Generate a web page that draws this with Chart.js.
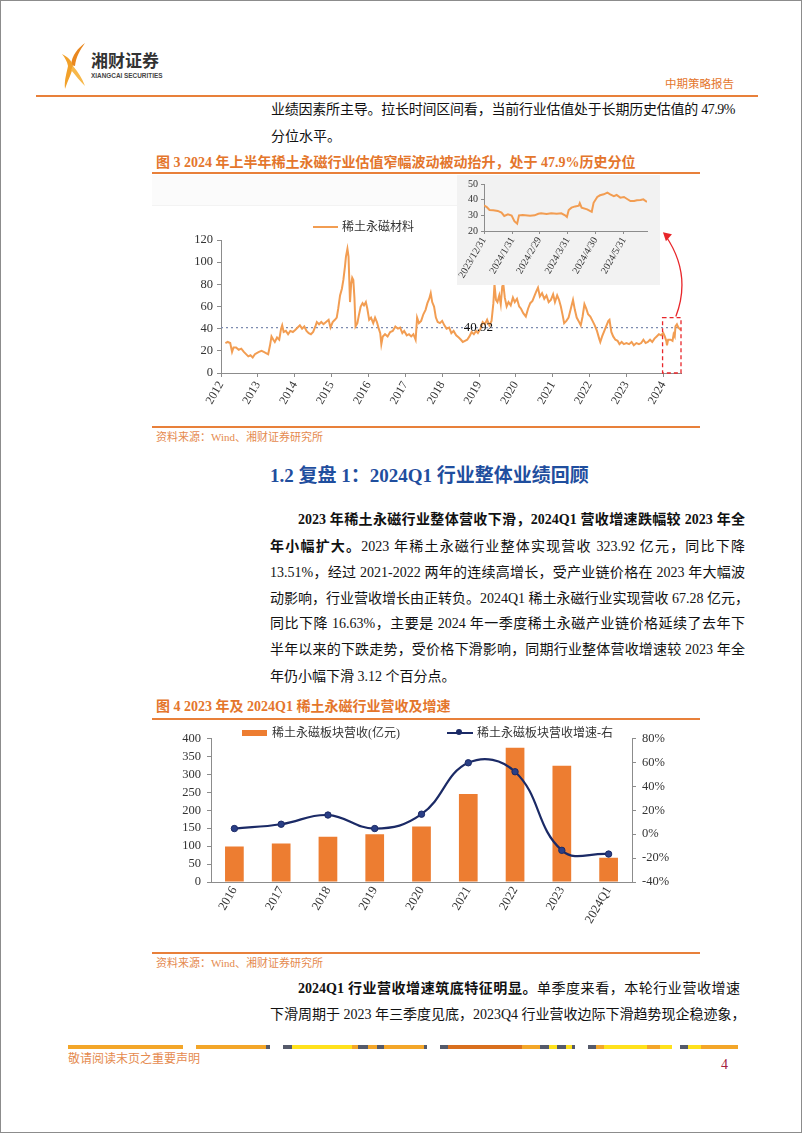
<!DOCTYPE html>
<html>
<head>
<meta charset="utf-8">
<script src="https://cdn.jsdelivr.net/npm/chart.js@4.4.1/dist/chart.umd.min.js"></script>
<style>
html, body { margin: 0; padding: 0; background: #fff; }
body { width: 802px; height: 1133px; position: relative; overflow: hidden;
  font-family: "Liberation Serif", "Noto Sans CJK SC", serif; color: #111; }
.frame { position: absolute; left: 0; top: 0; width: 800px; height: 1131px; border: 1px solid #8c8c8c; }
.abs { position: absolute; white-space: nowrap; }
.txt { position: absolute; white-space: nowrap; font-size: 14px; line-height: 20px; }
.just { text-align: justify; text-align-last: justify; }
.b { font-weight: bold; }
.figtitle { position: absolute; white-space: nowrap; font-size: 14px; line-height: 20px; font-weight: bold; color: #e4762c; }
.rule { position: absolute; height: 2px; background: #e8803a; }
.src { position: absolute; white-space: nowrap; font-size: 11px; line-height: 14px; color: #e58a4e; }
canvas { position: absolute; }
.seg { position: absolute; top: 1045px; height: 4px; }
</style>
</head>
<body>
<div class="frame"></div>

<!-- header -->
<svg class="abs" style="left:58px;top:40px" width="32" height="52" viewBox="58 40 32 52">
  <path d="M85,43 C78,48 72,55 71,65 L75,66 C76,57 80,50 85,43 Z" fill="#e9871f"/>
  <path d="M62,54 C68,57 72,61 73,66 C72,73 68,80 65,89 C64,80 67,72 68,66 C67,61 65,58 62,54 Z" fill="#f2a12a"/>
  <path d="M73,66 C78,72 82,78 85,86 C80,81 76,76 71,70 Z" fill="#f7b84a"/>
</svg>
<div class="abs" style="left:91px;top:49px;font-family:'Noto Sans CJK SC';font-weight:bold;font-size:17px;line-height:22px;color:#333;">湘财证券</div>
<div class="abs" style="left:91px;top:71px;font-family:'Liberation Sans';font-weight:bold;font-size:8px;line-height:9px;color:#444;transform:scaleX(0.8);transform-origin:left;">XIANGCAI SECURITIES</div>
<div class="abs" style="left:665px;top:75px;font-family:'Noto Sans CJK SC';font-size:11.5px;line-height:16px;color:#e4762c;">中期策略报告</div>
<div class="rule" style="left:36px;top:95px;width:722px;"></div>

<!-- paragraph before figure 3 -->
<div class="txt just" style="left:271px;top:100px;width:464px;letter-spacing:-0.5px;">业绩因素所主导。拉长时间区间看，当前行业估值处于长期历史估值的 47.9%</div>
<div class="txt" style="left:271px;top:127px;">分位水平。</div>

<!-- figure 3 -->
<div class="figtitle" style="left:156px;top:153px;">图 3 2024 年上半年稀土永磁行业估值窄幅波动被动抬升，处于 47.9%历史分位</div>
<div class="rule" style="left:152px;top:172px;width:548px;"></div>
<div class="abs" style="left:152px;top:175px;width:305px;height:30px;background:#fbfbfb;border-bottom:1px solid #f3f3f3;"></div>

<canvas id="mainChart" width="540" height="192" style="left:150px;top:228px;"></canvas>
<div class="abs" style="left:313px;top:226px;width:25px;height:2px;background:#f29d52;"></div>
<div class="abs" style="left:342px;top:218px;font-size:12px;line-height:18px;color:#333;">稀土永磁材料</div>

<div class="abs" style="left:457px;top:175px;width:203px;height:110px;background:#f2f2f2;"></div>
<canvas id="insetChart" width="203" height="110" style="left:457px;top:175px;"></canvas>

<div class="rule" style="left:152px;top:426px;width:548px;"></div>
<div class="src" style="left:156px;top:430px;">资料来源：Wind、湘财证券研究所</div>

<!-- section 1.2 -->
<div class="abs" style="left:270px;top:464px;font-size:19px;line-height:24px;font-weight:bold;color:#1f4e9e;">1.2 复盘 1：2024Q1 行业整体业绩回顾</div>

<div class="txt just b" style="left:298px;top:510px;width:447px;">2023 年稀土永磁行业整体营收下滑，2024Q1 营收增速跌幅较 2023 年全</div>
<div class="txt just" style="left:270px;top:537px;width:475px;"><span class="b">年小幅扩大。</span>2023 年稀土永磁行业整体实现营收 323.92 亿元，同比下降</div>
<div class="txt just" style="left:270px;top:563px;width:475px;">13.51%，经过 2021-2022 两年的连续高增长，受产业链价格在 2023 年大幅波</div>
<div class="txt just" style="left:270px;top:589px;width:478px;">动影响，行业营收增长由正转负。2024Q1 稀土永磁行业实现营收 67.28 亿元，</div>
<div class="txt just" style="left:270px;top:614px;width:475px;">同比下降 16.63%，主要是 2024 年一季度稀土永磁产业链价格延续了去年下</div>
<div class="txt just" style="left:270px;top:640px;width:475px;">半年以来的下跌走势，受价格下滑影响，同期行业整体营收增速较 2023 年全</div>
<div class="txt" style="left:270px;top:667px;">年仍小幅下滑 3.12 个百分点。</div>

<!-- figure 4 -->
<div class="figtitle" style="left:156px;top:697px;">图 4 2023 年及 2024Q1 稀土永磁行业营收及增速</div>
<div class="rule" style="left:152px;top:718px;width:548px;"></div>

<canvas id="revChart" width="540" height="215" style="left:150px;top:725px;"></canvas>
<div class="abs" style="left:242px;top:730px;width:25px;height:6px;background:#ed7d31;"></div>
<div class="abs" style="left:272px;top:724px;font-size:12px;line-height:18px;color:#333;">稀土永磁板块营收(亿元)</div>
<div class="abs" style="left:447px;top:732px;width:26px;height:2px;background:#1b2a66;"></div>
<div class="abs" style="left:456px;top:729px;width:6px;height:6px;border-radius:50%;background:#1b2a66;"></div>
<div class="abs" style="left:477px;top:724px;font-size:12px;line-height:18px;color:#333;">稀土永磁板块营收增速-右</div>

<div class="rule" style="left:152px;top:952px;width:548px;"></div>
<div class="src" style="left:156px;top:956px;">资料来源：Wind、湘财证券研究所</div>

<div class="txt just" style="left:298px;top:979px;width:442px;"><span class="b">2024Q1 行业营收增速筑底特征明显。</span>单季度来看，本轮行业营收增速</div>
<div class="txt just" style="left:270px;top:1005px;width:475px;">下滑周期于 2023 年三季度见底，2023Q4 行业营收边际下滑趋势现企稳迹象，</div>

<!-- footer -->
<div class="seg" style="left:68px;width:115px;background:#f3a629;"></div>
<div class="seg" style="left:196px;width:74px;background:linear-gradient(90deg,#f3a629 0 94%,#555a6a 94% 100%);"></div>
<div class="seg" style="left:283px;width:144px;background:linear-gradient(90deg,#555a6a 0 6%,#ffe11c 6% 48%,#f3a629 48% 52%,#555a6a 52% 59%,#f3a629 59% 65%,#555a6a 65% 70%,#f3a629 70% 98%,#555a6a 98% 100%);"></div>
<div class="seg" style="left:440px;width:135px;background:linear-gradient(90deg,#555a6a 0 6%,#d96f1e 6% 61%,#f3a629 61% 74%,#555a6a 74% 81%,#ffe11c 81% 87%,#555a6a 87% 93%,#ffe11c 93% 98%,#555a6a 98% 100%);"></div>
<div class="seg" style="left:588px;width:84px;background:linear-gradient(90deg,#555a6a 0 10%,#f3a629 10% 19%,#ffe11c 19% 70%,#f3a629 70% 86%,#ffe11c 86% 100%);"></div>
<div class="seg" style="left:680px;width:58px;background:linear-gradient(90deg,#555a6a 0 14%,#ffe11c 14% 36%,#f3a629 36% 100%);"></div>
<div class="abs" style="left:68px;top:1050px;font-family:'Noto Sans CJK SC';font-size:12px;line-height:16px;color:#e58a4e;">敬请阅读末页之重要声明</div>
<div class="abs" style="left:721px;top:1057px;font-size:14px;line-height:16px;color:#a3203e;">4</div>

<script>
// 稀土永磁材料 估值 (PE), 2012 - 2024H1
const peDates = [
  2012.12,2012.18,2012.25,2012.30,2012.34,2012.41,2012.48,2012.55,2012.62,2012.68,2012.74,2012.80,2012.86,2012.92,2012.97,
  2013.03,2013.10,2013.16,2013.22,2013.28,2013.33,2013.37,2013.42,2013.46,2013.52,2013.58,2013.63,2013.66,2013.70,2013.76,2013.82,2013.88,2013.95,
  2014.02,2014.08,2014.14,2014.20,2014.26,2014.32,2014.38,2014.44,2014.50,2014.56,2014.60,2014.66,2014.72,2014.78,2014.85,2014.92,2014.97,
  2015.03,2015.09,2015.14,2015.18,2015.23,2015.28,2015.32,2015.36,2015.39,2015.43,2015.46,2015.50,2015.53,2015.56,2015.59,2015.62,2015.65,2015.70,2015.74,2015.79,2015.84,2015.88,2015.93,2015.97,
  2016.02,2016.07,2016.13,2016.18,2016.23,2016.28,2016.32,2016.35,2016.39,2016.45,2016.52,2016.59,2016.66,2016.73,2016.80,2016.86,2016.92,2016.97,
  2017.04,2017.10,2017.16,2017.22,2017.28,2017.32,2017.37,2017.43,2017.49,2017.55,2017.60,2017.65,2017.69,2017.73,2017.78,2017.83,2017.88,2017.94,
  2018.00,2018.06,2018.12,2018.19,2018.25,2018.31,2018.38,2018.45,2018.51,2018.56,2018.62,2018.68,2018.74,2018.80,2018.86,2018.92,2018.97,
  2019.04,2019.10,2019.16,2019.22,2019.28,2019.34,2019.39,2019.42,2019.46,2019.50,2019.55,2019.59,2019.63,2019.66,2019.70,2019.75,2019.80,2019.86,2019.92,2019.97,
  2020.03,2020.09,2020.14,2020.20,2020.27,2020.33,2020.39,2020.45,2020.51,2020.56,2020.60,2020.65,2020.71,2020.77,2020.83,2020.89,2020.95,
  2021.01,2021.06,2021.12,2021.17,2021.22,2021.27,2021.31,2021.37,2021.43,2021.49,2021.55,2021.60,2021.65,2021.70,2021.76,2021.81,2021.86,2021.91,2021.96,
  2022.02,2022.08,2022.14,2022.20,2022.26,2022.29,2022.34,2022.40,2022.46,2022.51,2022.54,2022.59,2022.64,2022.70,2022.76,2022.81,2022.87,2022.93,
  2023.00,2023.07,2023.14,2023.20,2023.27,2023.34,2023.40,2023.46,2023.52,2023.58,2023.64,2023.70,2023.76,2023.82,2023.88,2023.94,
  2024.00,2024.04,2024.08,2024.10,2024.13,2024.20,2024.25,2024.28,2024.31,2024.33,2024.37,2024.41,2024.47
];
const peValues = [
  27,28,27,19,23,23,21,22,19,17,15,16,14,17,18,
  19,20,19,18,17,25,33,30,28,32,30,40,43,37,38,35,38,37,
  39,41,43,40,42,38,36,35,37,42,46,44,46,44,46,48,41,
  46,48,50,58,70,76,84,95,105,112,105,64,80,86,84,68,42,45,52,60,63,61,64,58,
  48,50,45,50,46,40,36,26,33,35,33,37,38,42,40,41,36,38,
  34,35,33,35,30,50,45,47,53,57,63,67,72,64,60,50,46,45,
  47,43,40,41,36,38,34,32,30,28,29,30,33,37,35,38,36,
  40,46,44,48,43,47,63,80,66,64,70,62,78,80,68,60,64,61,68,64,
  67,60,58,54,51,58,63,65,70,74,77,69,72,67,70,64,66,
  71,64,70,66,60,52,45,47,50,58,66,57,50,47,43,51,62,58,53,
  51,47,43,38,31,28,33,38,43,47,48,37,33,30,29,26,28,26,
  27,26,28,25,27,26,27,30,27,28,30,28,31,33,35,34,
  36,33,29,25,30,30,29,35,33,42,44,41,39
];
const peMedian = 40.92;
const yearTicks = [2012,2013,2014,2015,2016,2017,2018,2019,2020,2021,2022,2023,2024];

// 2024H1 放大图，单位：自 2023/12/31 起的天数
const insetDays = [0,3,6,10,15,19,22,26,30,33,36,38,42,50,55,59,62,68,73,79,84,88,90,92,95,99,103,104,106,112,115,117,119,123,126,130,134,137,141,144,148,152,155,159,163,166,170,173,177];
const insetValues = [36.4,35.3,33.4,33.2,32.8,31.7,29.6,30.6,29.9,26.3,24.7,30,30.2,29.8,30,31,31.3,30.9,31.3,31,31.3,30,29,33.4,34.9,35.7,36.2,37.7,34.9,33.8,32.8,32.3,38,41.7,42.8,43.4,44.5,43.4,42.3,43,41.3,41.7,40.6,39.1,39.1,39.6,39.8,40.2,38.5];
const insetTickDays = [0,31,60,91,121,152];
const insetTickLabels = ['2023/12/31','2024/1/31','2024/2/29','2024/3/31','2024/4/30','2024/5/31'];

// 稀土永磁板块营收及增速
const revCategories = ['2016','2017','2018','2019','2020','2021','2022','2023','2024Q1'];
const revenue = [99,107,126,133,155,245,374,324,67.28];
const revGrowth = [4.7,8.3,16.0,4.7,16.7,59.7,52.2,-13.51,-16.63];
const revTicks = [0,50,100,150,200,250,300,350,400];
const growthTicks = [-40,-20,0,20,40,60,80];

const serif = "'Liberation Serif', 'Noto Sans CJK SC', serif";
Chart.defaults.font.family = serif;
Chart.defaults.color = '#333';
Chart.defaults.animation = false;

const axisColor = '#8c8c8c';

const peSeries = peDates.map((d, i) => ({ x: d, y: peValues[i] }));

const markPlugin = {
  id: 'marks',
  afterDatasetsDraw(chart) {
    const { ctx, scales: { x, y } } = chart;
    ctx.save();
    // median label
    ctx.font = "13px " + serif;
    ctx.fillStyle = '#111';
    ctx.textAlign = 'center';
    ctx.textBaseline = 'middle';
    ctx.fillText(peMedian.toFixed(2), x.getPixelForValue(2018.98), y.getPixelForValue(peMedian));
    // red dashed box around 2024
    const bx0 = x.getPixelForValue(2023.98), bx1 = x.getPixelForValue(2024.48);
    const by0 = y.getPixelForValue(50), by1 = y.getPixelForValue(0);
    ctx.strokeStyle = '#e8262a';
    ctx.lineWidth = 1.3;
    ctx.setLineDash([4, 3]);
    ctx.strokeRect(bx0, by0, bx1 - bx0, by1 - by0);
    ctx.setLineDash([]);
    // arrow to the inset
    const sx = x.getPixelForValue(2024.34), sy = by0 - 1;
    const ex = x.getPixelForValue(2023.99), ey = y.getPixelForValue(127);
    ctx.beginPath();
    ctx.moveTo(sx, sy);
    ctx.quadraticCurveTo(sx + 16, (sy + ey) / 2, ex + 3, ey + 4);
    ctx.stroke();
    ctx.fillStyle = '#e8262a';
    ctx.beginPath();
    ctx.moveTo(ex, ey);
    ctx.lineTo(ex + 9, ey + 2);
    ctx.lineTo(ex + 3, ey + 9);
    ctx.closePath();
    ctx.fill();
    ctx.restore();
  }
};

new Chart(document.getElementById('mainChart'), {
  type: 'line',
  data: {
    datasets: [
      { label: '稀土永磁材料', data: peSeries, borderColor: '#f29d52', borderWidth: 2,
        pointRadius: 0, tension: 0, order: 0 },
      { label: 'median', data: [{ x: 2012, y: peMedian }, { x: 2024.48, y: peMedian }],
        borderColor: '#7e8cb0', borderWidth: 1.2, borderDash: [2, 3], pointRadius: 0, order: 1 }
    ]
  },
  options: {
    responsive: false,
    layout: { padding: { top: 12, right: 9, left: 0, bottom: 0 } },
    plugins: { legend: { display: false }, tooltip: { enabled: false } },
    scales: {
      x: {
        type: 'linear', min: 2012, max: 2024.48,
        afterBuildTicks: s => { s.ticks = yearTicks.map(v => ({ value: v })); },
        afterFit: s => { s.height = 47; },
        ticks: { autoSkip: false, minRotation: 60, maxRotation: 60, padding: 2,
          font: { size: 12 }, color: '#333', callback: v => String(v) },
        grid: { drawOnChartArea: false, drawTicks: true, tickLength: 4, color: axisColor },
        border: { display: true, color: axisColor }
      },
      y: {
        min: 0, max: 120,
        afterFit: s => { s.width = 71; },
        ticks: { stepSize: 20, padding: 4, font: { size: 12.5 }, color: '#333' },
        grid: { drawOnChartArea: false, drawTicks: true, tickLength: 4, color: axisColor },
        border: { display: true, color: axisColor }
      }
    }
  },
  plugins: [markPlugin]
});

new Chart(document.getElementById('insetChart'), {
  type: 'line',
  data: {
    datasets: [{ data: insetDays.map((d, i) => ({ x: d, y: insetValues[i] })),
      borderColor: '#f29d52', borderWidth: 2, pointRadius: 0, tension: 0 }]
  },
  options: {
    responsive: false,
    layout: { padding: { top: 8, right: 13, left: 0, bottom: 0 } },
    plugins: { legend: { display: false }, tooltip: { enabled: false } },
    scales: {
      x: {
        type: 'linear', min: 0, max: 177,
        afterBuildTicks: s => { s.ticks = insetTickDays.map(v => ({ value: v })); },
        afterFit: s => { s.height = 54; },
        ticks: { autoSkip: false, minRotation: 60, maxRotation: 60, padding: 1,
          font: { size: 10 }, color: '#333',
          callback: v => insetTickLabels[insetTickDays.indexOf(v)] },
        grid: { drawOnChartArea: false, drawTicks: true, tickLength: 3, color: axisColor },
        border: { display: true, color: axisColor }
      },
      y: {
        min: 20, max: 50,
        afterFit: s => { s.width = 27; },
        ticks: { stepSize: 10, padding: 3, font: { size: 10 }, color: '#333' },
        grid: { drawOnChartArea: false, drawTicks: true, tickLength: 3, color: axisColor },
        border: { display: true, color: axisColor }
      }
    }
  }
});

new Chart(document.getElementById('revChart'), {
  data: {
    labels: revCategories,
    datasets: [
      { type: 'line', label: '稀土永磁板块营收增速-右', data: revGrowth, yAxisID: 'y1',
        borderColor: '#1b2a66', borderWidth: 2.2, tension: 0.42,
        pointRadius: 3.2, pointBackgroundColor: '#2a3f86', pointBorderColor: '#1b2a66', pointBorderWidth: 1,
        order: 0 },
      { type: 'bar', label: '稀土永磁板块营收(亿元)', data: revenue, yAxisID: 'y',
        backgroundColor: '#ed7d31', barPercentage: 0.5, categoryPercentage: 0.8, order: 1 }
    ]
  },
  options: {
    responsive: false,
    layout: { padding: { top: 13, right: 0, left: 0, bottom: 0 } },
    plugins: { legend: { display: false }, tooltip: { enabled: false } },
    scales: {
      x: {
        afterFit: s => { s.height = 58; },
        ticks: { autoSkip: false, minRotation: 60, maxRotation: 60, padding: 2,
          font: { size: 12.5 }, color: '#333' },
        grid: { display: false, drawTicks: false },
        border: { display: true, color: axisColor }
      },
      y: {
        position: 'left', min: 0, max: 400,
        afterBuildTicks: s => { s.ticks = revTicks.map(v => ({ value: v })); },
        afterFit: s => { s.width = 61; },
        ticks: { autoSkip: false, padding: 6, font: { size: 12.5 }, color: '#333' },
        grid: { drawOnChartArea: false, drawTicks: true, tickLength: 4, color: axisColor },
        border: { display: true, color: axisColor }
      },
      y1: {
        position: 'right', min: -40, max: 80,
        afterBuildTicks: s => { s.ticks = growthTicks.map(v => ({ value: v })); },
        afterFit: s => { s.width = 58; },
        ticks: { autoSkip: false, padding: 6, font: { size: 12.5 }, color: '#333', callback: v => v + '%' },
        grid: { drawOnChartArea: false, drawTicks: true, tickLength: 4, color: axisColor },
        border: { display: true, color: axisColor }
      }
    }
  }
});
</script>
</body>
</html>
